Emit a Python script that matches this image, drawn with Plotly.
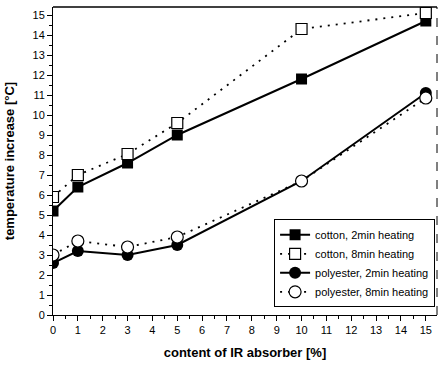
import plotly.graph_objects as go

x_content = [0, 1, 3, 5, 10, 15]
cotton_2min = [5.2, 6.4, 7.6, 9.0, 11.8, 14.7]
cotton_8min = [5.9, 7.0, 8.05, 9.6, 14.3, 15.1]
polyester_2min = [2.6, 3.2, 3.0, 3.5, 6.7, 11.1]
polyester_8min = [3.0, 3.7, 3.4, 3.9, 6.7, 10.85]
names = ["cotton, 2min heating", "cotton, 8min heating",
         "polyester, 2min heating", "polyester, 8min heating"]
x_ticks = list(range(0, 16))
y_ticks = list(range(0, 16))

dotted = "2px,6px"
fig = go.Figure()
fig.add_trace(go.Scatter(x=x_content, y=cotton_2min, name=names[0], mode="lines+markers",
                         line=dict(color="black", width=2, dash="solid"),
                         marker=dict(symbol="square", size=11, color="black")))
fig.add_trace(go.Scatter(x=x_content, y=cotton_8min, name=names[1], mode="lines+markers",
                         line=dict(color="black", width=1.8, dash=dotted),
                         marker=dict(symbol="square", size=11, color="white",
                                     line=dict(color="black", width=1.2))))
fig.add_trace(go.Scatter(x=x_content, y=polyester_2min, name=names[2], mode="lines+markers",
                         line=dict(color="black", width=2, dash="solid"),
                         marker=dict(symbol="circle", size=12, color="black")))
fig.add_trace(go.Scatter(x=x_content, y=polyester_8min, name=names[3], mode="lines+markers",
                         line=dict(color="black", width=1.8, dash=dotted),
                         marker=dict(symbol="circle", size=12, color="white",
                                     line=dict(color="black", width=1.2))))

tickfont = dict(family="Liberation Sans, Arial", size=11, color="black")
fig.update_layout(
    width=444, height=368,
    margin=dict(l=53, r=7, t=7, b=53),
    plot_bgcolor="white", paper_bgcolor="white",
    showlegend=True,
    legend=dict(x=0.995, y=0.025, xanchor="right", yanchor="bottom",
                bordercolor="black", borderwidth=1, bgcolor="white",
                font=dict(family="Liberation Sans, Arial", size=11, color="black"),
                itemwidth=30, tracegroupgap=0),
    xaxis=dict(range=[0, 15.45], tickvals=x_ticks, ticktext=[str(v) for v in x_ticks],
               automargin=False,
               showgrid=False, zeroline=False, showline=True, linecolor="black", linewidth=1,
               mirror=False, ticks="outside", ticklen=5, tickcolor="black",
               minor=dict(dtick=0.5, ticks="outside", ticklen=3, tickcolor="black"),
               tickfont=tickfont,
               title=dict(text="<b>content of IR absorber [%]</b>",
                          font=dict(family="Liberation Sans, Arial", size=13, color="black"),
                          standoff=12)),
    yaxis=dict(range=[0, 15.4], tickvals=y_ticks, ticktext=[str(v) for v in y_ticks],
               automargin=False,
               showgrid=False, zeroline=False, showline=True, linecolor="black", linewidth=1,
               ticks="outside", ticklen=5, tickcolor="black",
               minor=dict(dtick=0.5, ticks="outside", ticklen=3, tickcolor="black"),
               tickfont=tickfont,
               title=dict(text="<b>temperature increase [°C]</b>",
                          font=dict(family="Liberation Sans, Arial", size=13, color="black"),
                          standoff=14)),
)
# top border (solid) and right border (dashed)
fig.add_shape(type="line", xref="paper", yref="paper", x0=0, x1=1, y0=1, y1=1,
              line=dict(color="black", width=1.5))
fig.add_shape(type="line", xref="paper", yref="paper", x0=1, x1=1, y0=0, y1=1,
              line=dict(color="black", width=1, dash="dash"))

fig.write_html("out.html", config={"displayModeBar": False},
               post_script="document.body.style.margin='0';")
